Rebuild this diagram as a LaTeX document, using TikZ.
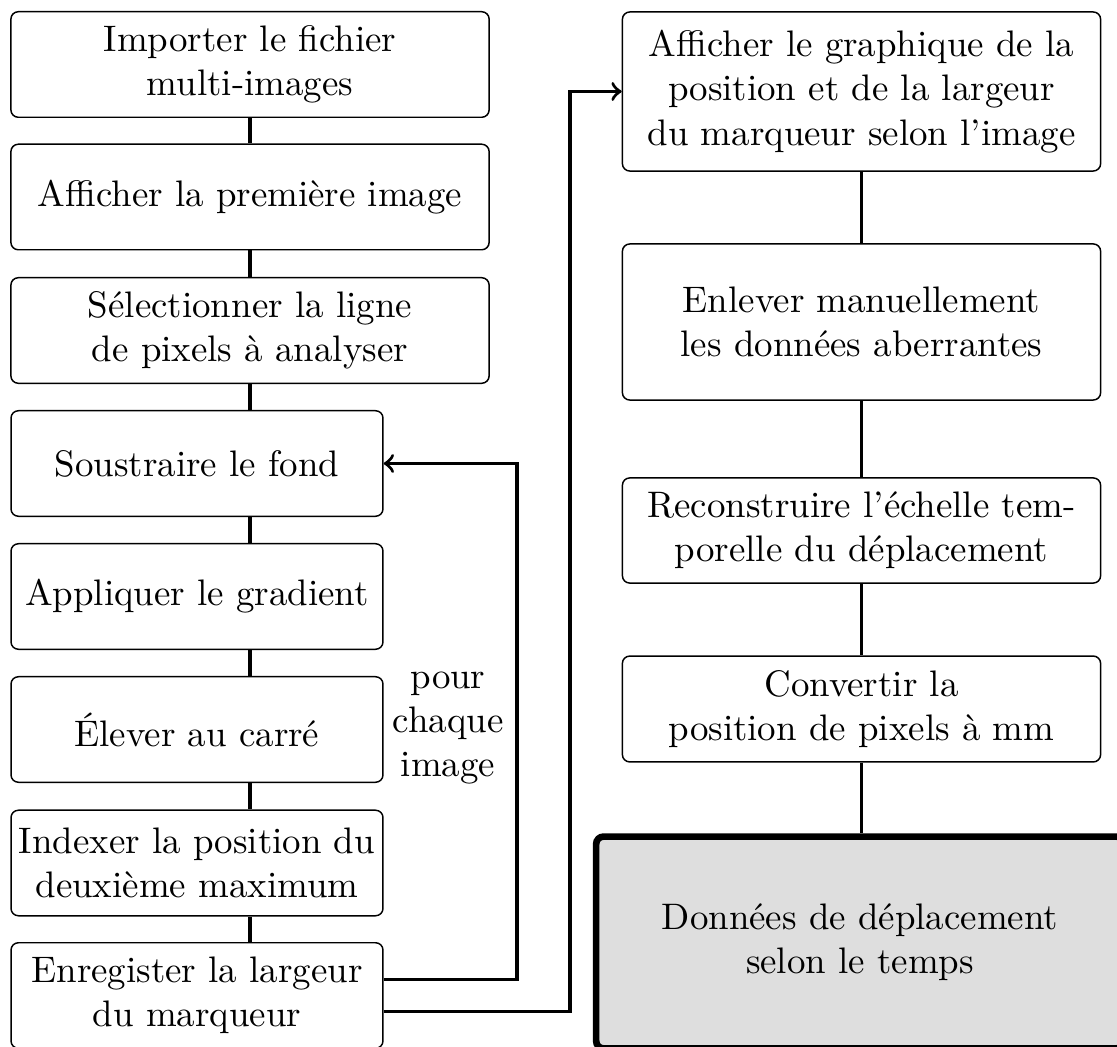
\documentclass[tikz,border=0pt]{standalone}
\usepackage{fontspec}
\usetikzlibrary{calc}
\definecolor{lightgr}{RGB}{222,222,222}
\begin{document}
\begin{tikzpicture}[x=0.271pt,y=-0.271pt,
  box/.style={draw,line width=0.4pt,rounded corners=2pt,inner sep=0pt,align=center,font=\normalsize},
  wide/.style={box,text width=129.6pt,minimum width=129.6pt},
  narrow/.style={box,text width=100.8pt,minimum width=100.8pt},
  endbox/.style={box,line width=1.8pt,fill=lightgr,text width=143pt,minimum width=143pt,minimum height=57.4pt},
  conn/.style={line width=0.9pt},
  arr/.style={line width=0.9pt,->}]
\useasboundingbox (0,0) rectangle (1117,1047);
% left column
\node[wide,minimum height=28.6pt] (b1) at (250,64.5) {Importer le fichier\\multi-images};
\node[wide,minimum height=28.6pt] (b2) at (250,197) {Afficher la première image};
\node[wide,minimum height=28.6pt] (b3) at (250,330.5) {Sélectionner la ligne\\de pixels à analyser};
\node[narrow,minimum height=28.6pt] (b4) at (197,463.5) {Soustraire le fond};
\node[narrow,minimum height=28.6pt] (b5) at (197,596.5) {Appliquer le gradient};
\node[narrow,minimum height=28.6pt] (b6) at (197,729.5) {Élever au carré};
\node[narrow,minimum height=28.6pt] (b7) at (197,863) {Indexer la position du\\deuxième maximum};
\node[narrow,minimum height=28.6pt] (b8) at (197,995.5) {Enregister la largeur\\du marqueur};
\node[align=center,inner sep=0pt] (lbl) at (448,728) {pour\\chaque\\image};
% right column
\node[wide,minimum height=43.1pt] (r1) at (861.5,91.5) {Afficher le graphique de la\\position et de la largeur\\du marqueur selon l’image};
\node[wide,minimum height=42.3pt] (r2) at (861.5,322) {Enlever manuellement\\les données aberrantes};
\node[wide,minimum height=28.5pt] (r3) at (861.5,530.5) {Reconstruire l’échelle tem-\\porelle du déplacement};
\node[wide,minimum height=28.7pt] (r4) at (861.5,709) {Convertir la\\position de pixels à mm};
\node[endbox] (r5) at (860,942.5) {Données de déplacement\\selon le temps};
% column coordinates
\coordinate (colL) at (250,0);
\coordinate (loopA) at (517,0);
\coordinate (loopB) at (570,0);
% connectors left
\draw[conn] (b1.south) -- (b2.north);
\draw[conn] (b2.south) -- (b3.north);
\draw[conn] (b3.south) -- (colL |- b4.north);
\draw[conn] (colL |- b4.south) -- (colL |- b5.north);
\draw[conn] (colL |- b5.south) -- (colL |- b6.north);
\draw[conn] (colL |- b6.south) -- (colL |- b7.north);
\draw[conn] (colL |- b7.south) -- (colL |- b8.north);
% connectors right
\draw[conn] (r1.south) -- (r2.north);
\draw[conn] (r2.south) -- (r3.north);
\draw[conn] (r3.south) -- (r4.north);
\draw[conn] (r4.south) -- (r4.south |- r5.north);
% loop arrows
\draw[arr] ($(b8.east)+(0,-16)$) -| (loopA |- b4.east) -- (b4.east);
\draw[arr] ($(b8.east)+(0,16)$) -| (loopB |- r1.west) -- (r1.west);
\end{tikzpicture}
\end{document}
